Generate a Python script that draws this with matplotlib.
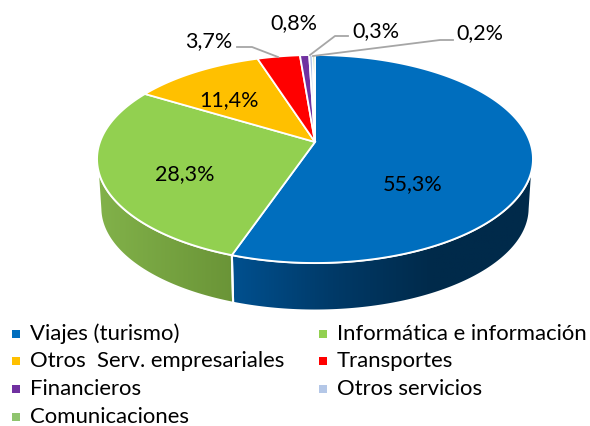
import numpy as np
import matplotlib
matplotlib.use("Agg")
import matplotlib.pyplot as plt
from matplotlib.colors import LinearSegmentedColormap
from matplotlib.patches import Polygon

plt.rcParams['font.family'] = ['Lato', 'DejaVu Sans']

categorias = ["Viajes (turismo)", "Informática e información", "Otros  Serv. empresariales",
              "Transportes", "Financieros", "Otros servicios", "Comunicaciones"]
valores = [55.3, 28.3, 11.4, 3.7, 0.8, 0.3, 0.2]
colores = ["#006EBE", "#92D050", "#FFC000", "#FF0000", "#7030A0", "#B4C7E7", "#8FC46E"]
lados = {0: ["#00508F", "#003A68", "#002A4A", "#002A4A"],
         1: ["#82B24A", "#6A9437"]}

# posiciones de las etiquetas (pixeles)
pos_etiquetas = [(413, 184), (185, 174), (229, 100), (209, 41), (294, 23), (376, 31), (480, 33)]
guias = {3: [(237, 47), (252, 47), (278, 57)],
         5: [(310, 55), (335, 36), (348, 36)],
         6: [(313, 56), (440, 40), (453, 40)]}
pos_leyenda = [(16, 334), (323, 334), (16, 361), (323, 361), (16, 389), (323, 389), (16, 417)]

# geometria del pastel en perspectiva
k = 0.1635
A, B = 215.0, 101.2
cx, cy = 315.0, 142.0
cy_base, esc_base = 191.4, 0.985


def borde(theta, cy_=cy, esc=1.0):
    # theta en grados, sentido horario desde arriba
    t = np.radians(theta)
    u, v = np.sin(t), np.cos(t)
    w = 1 + k * v
    return np.column_stack((cx + esc * A * u / w, cy_ - esc * B * v / w))


fig = plt.figure(figsize=(5.9, 4.26), dpi=100)
ax = fig.add_axes([0, 0, 1, 1])

limites = np.concatenate(([0], np.cumsum(valores))) / sum(valores) * 360

# pared lateral
for i, c in lados.items():
    t0, t1 = max(limites[i], 100), min(limites[i + 1], 260)
    ts = np.linspace(t0, t1, 100)
    pts = np.vstack((borde(ts), borde(ts[::-1], cy_base, esc_base)))
    poly = Polygon(pts, closed=True, facecolor="none", edgecolor="white", lw=1.5, zorder=3)
    ax.add_patch(poly)
    cmap = LinearSegmentedColormap.from_list("lado", c)
    grad = np.linspace(0, 1, 256).reshape(1, -1)
    im = ax.imshow(grad, cmap=cmap,
                   extent=(pts[:, 0].min(), pts[:, 0].max(), pts[:, 1].max(), pts[:, 1].min()),
                   aspect="auto", zorder=2)
    im.set_clip_path(poly)

ax.set_xlim(0, 590)
ax.set_ylim(426, 0)
ax.axis("off")

# cara superior
for i, col in enumerate(colores):
    ts = np.linspace(limites[i], limites[i + 1], max(int(valores[i] * 4), 3))
    pts = np.vstack(([[cx, cy]], borde(ts)))
    ax.add_patch(Polygon(pts, closed=True, facecolor=col, edgecolor="white", lw=1.3, zorder=4))

# etiquetas
for v, (x, y) in zip(valores, pos_etiquetas):
    ax.text(x, y, f"{v:.1f}%".replace(".", ","), fontsize=15.5, ha="center", va="center",
            color="black", zorder=6)
for g in guias.values():
    g = np.array(g)
    ax.plot(g[:, 0], g[:, 1], color="#A6A6A6", lw=1.3, zorder=5)

# leyenda
for nombre, col, (x, y) in zip(categorias, colores, pos_leyenda):
    ax.scatter([x], [y], marker="s", s=30, color=col, linewidths=0, zorder=6)
    ax.text(x + 14, y, nombre, fontsize=15.9, ha="left", va="center", color="black", zorder=6)

fig.savefig("out.png", dpi=100)
